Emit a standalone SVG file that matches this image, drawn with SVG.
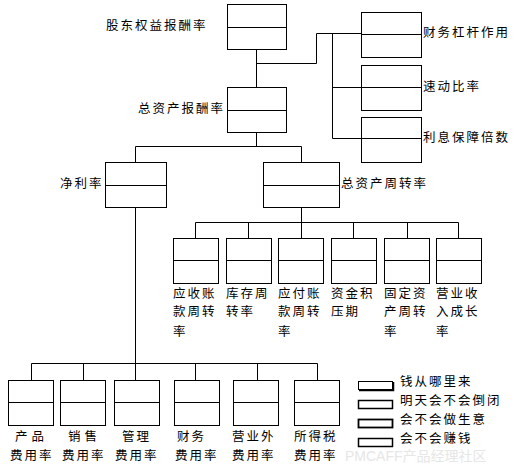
<svg xmlns="http://www.w3.org/2000/svg" width="517" height="468" viewBox="0 0 517 468">
<style>
.b{fill:#fff;stroke:#000;stroke-width:1}
.d{stroke:#000;stroke-width:1;fill:none}
.c{stroke:#000;stroke-width:1;fill:none}
text{font-family:"Noto Sans CJK SC","Noto Sans",sans-serif;font-size:12.5px;fill:#000;letter-spacing:2px;dominant-baseline:middle}
.wm{fill:#e6e6e6;font-size:14px;letter-spacing:0;font-family:"Liberation Sans","Noto Sans CJK SC",sans-serif}
</style>
<defs>
<g id="box"><rect class="b" x="0.5" y="0.5" width="45" height="45"/><line class="d" x1="0.5" y1="22.5" x2="45.5" y2="22.5"/></g>
</defs>
<g id="connectors">
<path class="c" d="M256.5 50 V87 M256.5 63.5 H316.5 V33.5 H361 M332.5 33.5 V138.5 M332.5 87.5 H361 M332.5 138.5 H361"/>
<path class="c" d="M256.5 132 V146.5 M135.5 146.5 H301.5 M135.5 146.5 V162 M301.5 146.5 V162"/>
<path class="c" d="M301.5 207 V222.5 M195.5 222.5 H458.5 M195.5 222.5 V238 M248.5 222.5 V238 M301.5 222.5 V238 M353.5 222.5 V238 M407.5 222.5 V238 M458.5 222.5 V238"/>
<path class="c" d="M135.5 207 V380 M31.5 363.5 H317.5 M31.5 363.5 V380 M83.5 363.5 V380 M195.5 363.5 V380 M257.5 363.5 V380 M317.5 363.5 V380"/>
</g>
<g id="n-roe"><rect class="b" x="227.5" y="4.5" width="59" height="45"/><line class="d" x1="227.5" y1="27.5" x2="286.5" y2="27.5"/><text x="106" y="27">股东权益报酬率</text></g>
<g id="n-roa"><rect class="b" x="227.5" y="87.5" width="59" height="45"/><line class="d" x1="227.5" y1="110.5" x2="286.5" y2="110.5"/><text x="138" y="110">总资产报酬率</text></g>
<g id="n-lev"><rect class="b" x="361.5" y="12.5" width="60" height="45"/><line class="d" x1="361.5" y1="34.5" x2="421.5" y2="34.5"/><text x="423" y="34">财务杠杆作用</text></g>
<g id="n-quick"><rect class="b" x="361.5" y="65.5" width="60" height="45"/><line class="d" x1="361.5" y1="87.5" x2="421.5" y2="87.5"/><text x="423" y="88">速动比率</text></g>
<g id="n-int"><rect class="b" x="361.5" y="117.5" width="60" height="45"/><line class="d" x1="361.5" y1="138.5" x2="421.5" y2="138.5"/><text x="423" y="139">利息保障倍数</text></g>
<g id="n-npm"><rect class="b" x="105.5" y="162.5" width="61" height="45"/><line class="d" x1="105.5" y1="185.5" x2="166.5" y2="185.5"/><text x="60" y="185">净利率</text></g>
<g id="n-tat"><rect class="b" x="263.5" y="162.5" width="76" height="45"/><line class="d" x1="263.5" y1="185.5" x2="339.5" y2="185.5"/><text x="341" y="185">总资产周转率</text></g>
<g id="n-ar"><use href="#box" x="173" y="238"/><text x="173" y="295">应收账</text><text x="173" y="313">款周转</text><text x="173" y="333">率</text></g>
<g id="n-inv"><use href="#box" x="226" y="238"/><text x="226" y="295">库存周</text><text x="226" y="313">转率</text></g>
<g id="n-ap"><use href="#box" x="278" y="238"/><text x="278" y="295">应付账</text><text x="278" y="313">款周转</text><text x="278" y="333">率</text></g>
<g id="n-cash"><use href="#box" x="331" y="238"/><text x="331" y="295">资金积</text><text x="331" y="313">压期</text></g>
<g id="n-fa"><use href="#box" x="384" y="238"/><text x="384" y="295">固定资</text><text x="384" y="313">产周转</text><text x="384" y="333">率</text></g>
<g id="n-rev"><use href="#box" x="436" y="238"/><text x="436" y="295">营业收</text><text x="436" y="313">入成长</text><text x="436" y="333">率</text></g>
<g id="n-prod"><use href="#box" x="8" y="380"/><text x="15" y="438" style="letter-spacing:4px">产品</text><text x="10" y="457">费用率</text></g>
<g id="n-sale"><use href="#box" x="60" y="380"/><text x="68" y="438" style="letter-spacing:4px">销售</text><text x="62" y="457">费用率</text></g>
<g id="n-mgmt"><use href="#box" x="114" y="380"/><text x="122" y="438" style="letter-spacing:2px">管理</text><text x="115" y="457">费用率</text></g>
<g id="n-fin"><use href="#box" x="174" y="380"/><text x="177" y="438" style="letter-spacing:2px">财务</text><text x="175" y="457">费用率</text></g>
<g id="n-nonop"><use href="#box" x="233" y="380"/><text x="232" y="438">营业外</text><text x="232" y="457">费用率</text></g>
<g id="n-tax"><use href="#box" x="294" y="380"/><text x="294" y="438">所得税</text><text x="294" y="457">费用率</text></g>
<g id="legend">
<rect x="358.5" y="381.5" width="34" height="8" fill="#fff" stroke="#000" stroke-width="1"/><path d="M359 390.5 H393.5 V382" stroke="#000" stroke-width="1.5" fill="none"/>
<text x="400" y="383">钱从哪里来</text>
<rect x="358.5" y="400.5" width="34" height="8" fill="#fff" stroke="#000" stroke-width="1.5"/>
<text x="400" y="402">明天会不会倒闭</text>
<rect x="358.5" y="419.5" width="34" height="8" fill="#fff" stroke="#000" stroke-width="1.8"/>
<text x="400" y="421">会不会做生意</text>
<rect x="358.5" y="438.5" width="34" height="8" fill="#fff" stroke="#000" stroke-width="1.5"/>
<text x="400" y="440">会不会赚钱</text>
<text class="wm" x="345" y="457">PMCAFF产品经理社区</text>
</g>
</svg>
